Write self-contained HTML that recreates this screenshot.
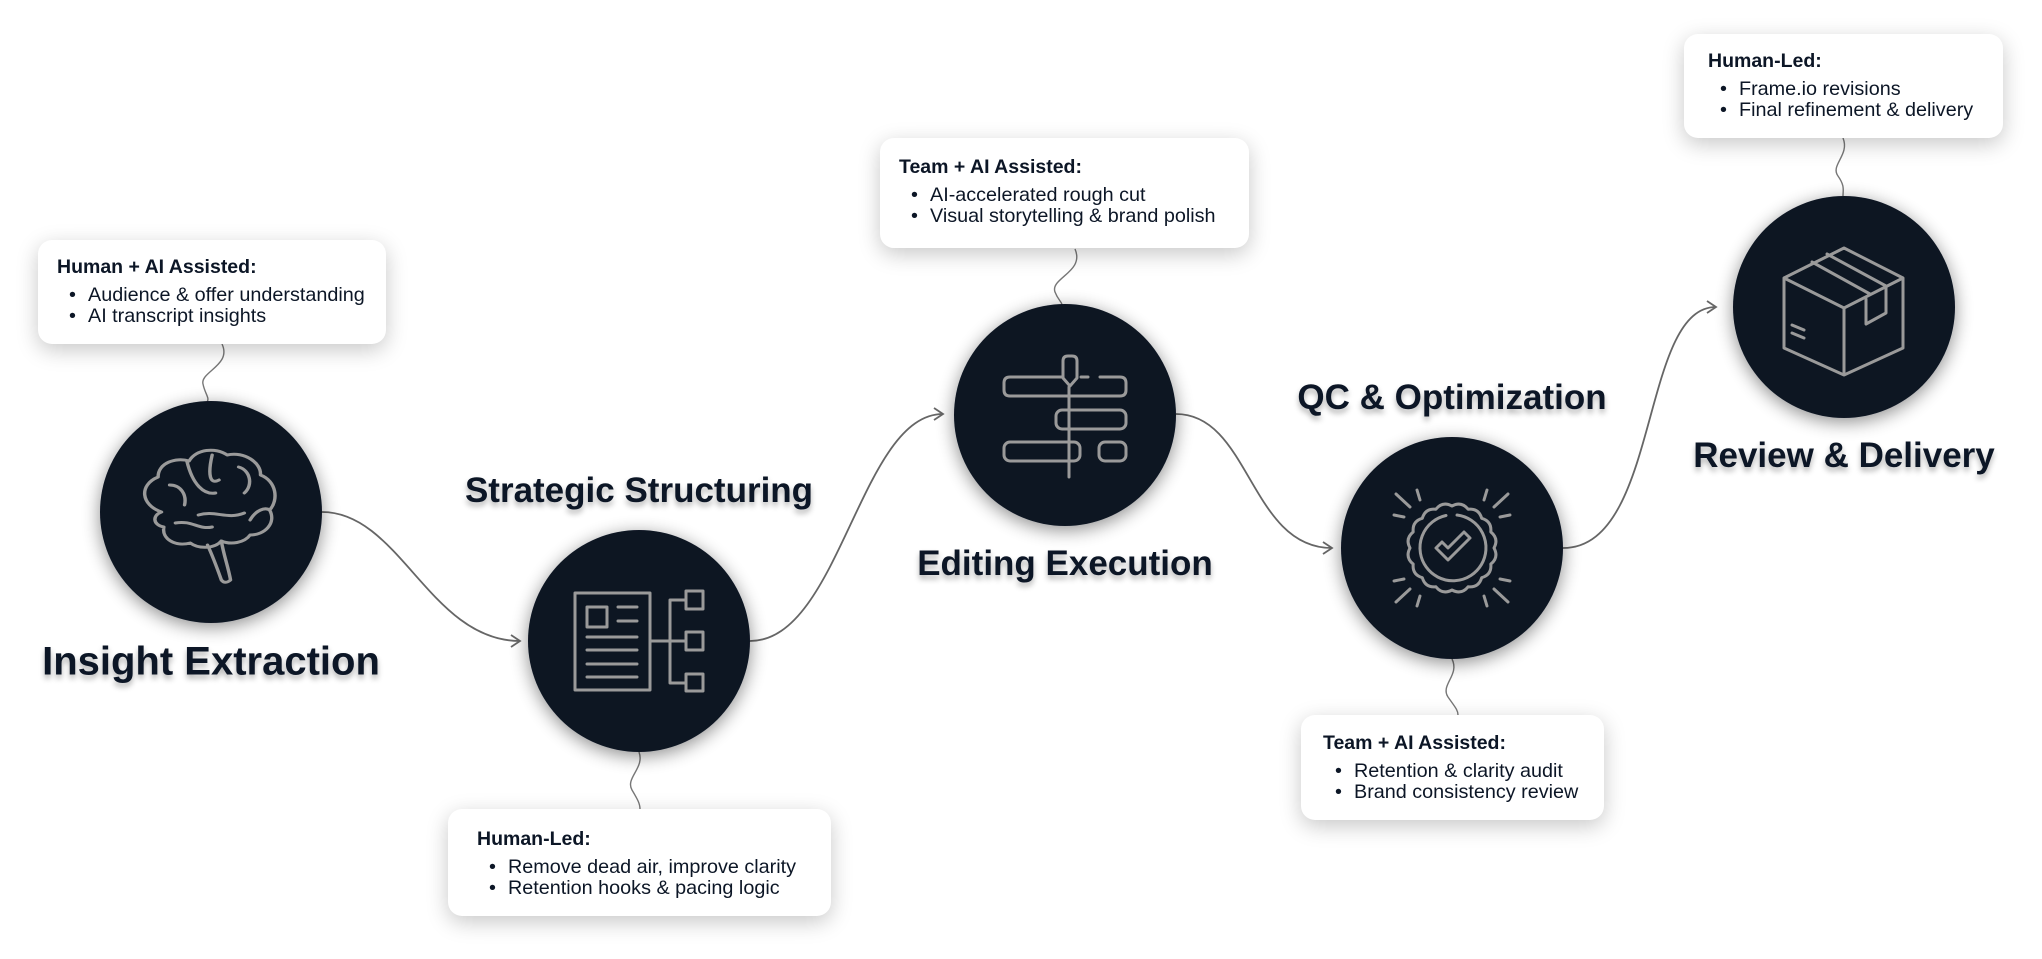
<!DOCTYPE html>
<html><head><meta charset="utf-8"><style>
html,body{margin:0;padding:0;background:#fff;}
body{width:2042px;height:959px;position:relative;overflow:hidden;font-family:"Liberation Sans",Arial,sans-serif;}
.box{position:absolute;background:#fff;border-radius:14px;box-shadow:0 6px 22px rgba(0,0,0,0.22);color:#0c1626;box-sizing:border-box;padding:16px 0 0 19px;}
.box h4{margin:0 0 6px 0;font-size:19.5px;font-weight:bold;}
.box ul{margin:0;padding:0 0 0 12px;list-style:none;font-size:19.8px;line-height:21px;}
.box li:before{content:"•";display:inline-block;width:19px;}
.t{position:absolute;font-weight:bold;color:#0c1626;text-shadow:0 4px 6px rgba(0,0,0,0.3);white-space:nowrap;transform:translate(-50%,-50%);}
svg{position:absolute;left:0;top:0;}
</style></head><body>
<svg width="2042" height="959" viewBox="0 0 2042 959">
<defs>
<filter id="sh" x="-30%" y="-30%" width="160%" height="160%"><feGaussianBlur in="SourceAlpha" stdDeviation="9"/><feOffset dy="4"/><feComponentTransfer><feFuncA type="linear" slope="0.45"/></feComponentTransfer><feMerge><feMergeNode/><feMergeNode in="SourceGraphic"/></feMerge></filter>
<marker id="ar" markerWidth="14" markerHeight="14" refX="11" refY="7" orient="auto" markerUnits="userSpaceOnUse"><path d="M2,1 L11,7 L2,13" fill="none" stroke="#666" stroke-width="1.8"/></marker>
</defs>
<g fill="none" stroke="#666" stroke-width="1.8">
<path d="M322,512 C400,512 430,641 520,641" marker-end="url(#ar)"/>
<path d="M750,641 C840,641 860,414 943,414" marker-end="url(#ar)"/>
<path d="M1176,414 C1250,414 1250,548 1332,548" marker-end="url(#ar)"/>
<path d="M1563,548 C1660,548 1640,307 1716,307" marker-end="url(#ar)"/>
<g stroke-width="1.4" stroke="#777">
<path d="M222,344 C232,365 200,372 203,384 C205,394 210,398 207,402"/>
<path d="M1075,249 C1085,272 1050,278 1055,292 C1058,300 1062,302 1062,305"/>
<path d="M639,752 C645,768 625,778 632,790 C638,800 640,804 640,809"/>
<path d="M1452,659 C1460,675 1440,685 1448,697 C1455,707 1458,710 1458,715"/>
<path d="M1843,138 C1850,155 1830,165 1838,176 C1845,186 1843,190 1843,196"/>
</g>
</g>
<g fill="#0a1424" filter="url(#sh)">
<circle cx="211" cy="512" r="111"/>
<circle cx="639" cy="641" r="111"/>
<circle cx="1065" cy="415" r="111"/>
<circle cx="1452" cy="548" r="111"/>
<circle cx="1844" cy="307" r="111"/>
</g>
<g fill="none" stroke="#9a9a9a" stroke-width="3" stroke-linecap="round" stroke-linejoin="round">
<!-- brain -->
<g transform="translate(211,505) scale(1.15,1) translate(-211,-490)">
<path d="M168,497 C150,490 148,470 165,462 C165,448 180,442 192,446 C198,434 215,432 225,440 C240,436 255,448 254,460 C268,466 270,485 262,495 C268,508 258,520 245,520 C240,528 228,530 220,526 C214,534 200,534 193,528 C180,532 168,524 170,512 C160,510 160,500 168,497 Z"/>
<path d="M220,526 C222,540 226,552 228,565 C225,568 222,568 220,565 C216,552 212,540 208,530"/>
<path d="M190,446 C195,470 205,480 215,478 M212,440 C208,460 210,470 218,465 M235,452 C245,455 248,470 240,478 M175,470 C185,470 190,480 188,490 M200,500 C215,495 225,505 240,498 M180,508 C195,505 200,515 212,512 M245,505 C250,495 258,492 262,495"/>
</g>
<!-- strategic -->
<rect x="575" y="593" width="75" height="97"/>
<rect x="587" y="607" width="20" height="20"/>
<path d="M618,607 H637 M618,621 H637 M587,637 H637 M587,650 H637 M587,664 H637 M587,677 H637"/>
<path d="M650,641 H686 M670,600 V683 M670,600 H686 M670,683 H686"/>
<rect x="686" y="591" width="17" height="18"/><rect x="686" y="632" width="17" height="18"/><rect x="686" y="674" width="17" height="17"/>
<!-- editing -->
<path d="M1063,377 H1010 Q1004,377 1004,383 V390 Q1004,396 1010,396 H1120 Q1126,396 1126,390 V383 Q1126,377 1120,377 H1100 M1088,377 H1081"/>
<rect x="1056" y="410" width="70" height="19" rx="6"/>
<rect x="1004" y="442" width="76" height="19" rx="6"/>
<rect x="1099" y="442" width="27" height="19" rx="6"/>
<path d="M1069,387 V477 M1063,378 V361 Q1063,356 1068,356 H1072 Q1077,356 1077,361 V378 L1070,386 Z"/>
<!-- badge -->
<path d="M1494,548 Q1499.1,557.4 1490.8,564.1 Q1491.9,574.7 1481.7,577.7 Q1478.7,587.9 1468.1,586.8 Q1461.4,595.1 1452,590 Q1442.6,595.1 1435.9,586.8 Q1425.3,587.9 1422.3,577.7 Q1412.1,574.7 1413.2,564.1 Q1404.9,557.4 1410,548 Q1404.9,538.6 1413.2,531.9 Q1412.1,521.3 1422.3,518.3 Q1425.3,508.1 1435.9,509.2 Q1442.6,500.9 1452,506 Q1461.4,500.9 1468.1,509.2 Q1478.7,508.1 1481.7,518.3 Q1491.9,521.3 1490.8,531.9 Q1499.1,538.6 1494,548 Z"/>
<path d="M1457,515 A33,33 0 1 1 1446,515.5"/>
<path d="M1436,548 l12,12 l22,-22 l-6,-6 l-16,16 l-6,-6 z"/>
<path d="M1396,494 l14,13 M1417,490 l3,10 M1394,515 l10,2 M1508,494 l-14,13 M1487,490 l-3,10 M1510,515 l-10,2 M1396,602 l14,-13 M1417,606 l3,-10 M1394,581 l10,-2 M1508,602 l-14,-13 M1487,606 l-3,-10 M1510,581 l-10,-2"/>
<!-- box -->
<path d="M1844,248 L1903,278 V348 L1844,375 L1784,348 V278 Z M1784,278 L1844,308 L1903,278 M1844,308 V375 M1812,262 L1870,294 M1827,254 L1886,286 V313 L1866,324 V299"/>
<path d="M1792,325 l12,5 M1792,333 l12,5"/>
</g>
</svg>

<div class="box" style="left:38px;top:240px;width:348px;height:104px;"><h4>Human + AI Assisted:</h4><ul><li>Audience &amp; offer understanding</li><li>AI transcript insights</li></ul></div>
<div class="box" style="left:448px;top:809px;width:383px;height:107px;padding-top:19px;padding-left:29px;"><h4>Human-Led:</h4><ul><li>Remove dead air, improve clarity</li><li>Retention hooks &amp; pacing logic</li></ul></div>
<div class="box" style="left:880px;top:138px;width:369px;height:110px;padding-top:18px;"><h4>Team + AI Assisted:</h4><ul><li>AI-accelerated rough cut</li><li>Visual storytelling &amp; brand polish</li></ul></div>
<div class="box" style="left:1301px;top:715px;width:303px;height:105px;padding-top:17px;padding-left:22px;"><h4>Team + AI Assisted:</h4><ul><li>Retention &amp; clarity audit</li><li>Brand consistency review</li></ul></div>
<div class="box" style="left:1684px;top:34px;width:319px;height:104px;padding-top:16px;padding-left:24px;"><h4>Human-Led:</h4><ul><li>Frame.io revisions</li><li>Final refinement &amp; delivery</li></ul></div>

<div class="t" style="left:211px;top:662px;font-size:40px;">Insight Extraction</div>
<div class="t" style="left:639px;top:491px;font-size:35px;">Strategic Structuring</div>
<div class="t" style="left:1065px;top:564px;font-size:35px;">Editing Execution</div>
<div class="t" style="left:1452px;top:398px;font-size:35px;">QC &amp; Optimization</div>
<div class="t" style="left:1844px;top:456px;font-size:35px;">Review &amp; Delivery</div>
</body></html>
